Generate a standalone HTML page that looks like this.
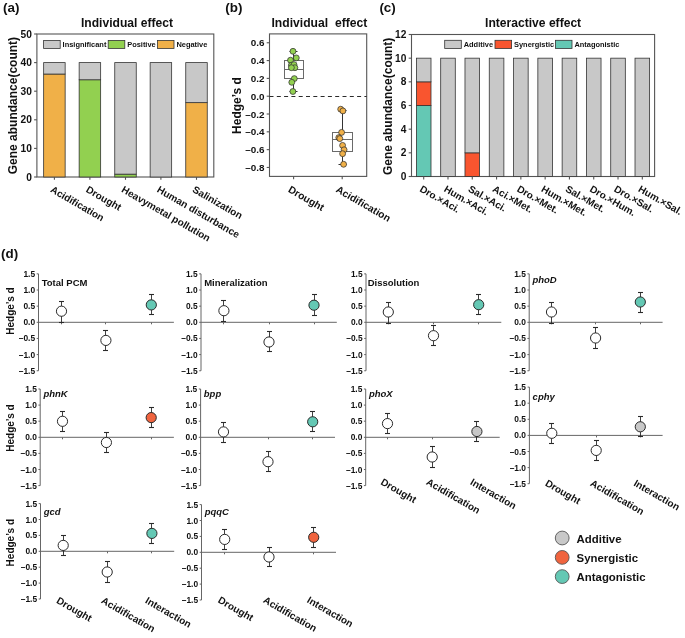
<!DOCTYPE html>
<html><head><meta charset="utf-8"><style>
html,body{margin:0;padding:0;background:#fff;}
svg{display:block;font-family:"Liberation Sans", sans-serif;will-change:transform;}
</style></head><body>
<svg width="685" height="638" viewBox="0 0 685 638">
<rect width="685" height="638" fill="#fff"/>
<text x="3.00" y="11.90" font-size="13.4" font-weight="bold" text-anchor="start" fill="#111">(a)</text>
<text x="225.30" y="11.90" font-size="13.4" font-weight="bold" text-anchor="start" fill="#111">(b)</text>
<text x="379.40" y="11.90" font-size="13.4" font-weight="bold" text-anchor="start" fill="#111">(c)</text>
<text x="1.00" y="257.90" font-size="13.4" font-weight="bold" text-anchor="start" fill="#111">(d)</text>
<rect x="36.9" y="34.0" width="176.90" height="143.00" fill="none" stroke="#555" stroke-width="1.1"/>
<line x1="34.10" y1="177.00" x2="36.90" y2="177.00" stroke="#555" stroke-width="1.1"/>
<text x="31.90" y="180.60" font-size="10.2" font-weight="bold" text-anchor="end" fill="#111">0</text>
<line x1="34.10" y1="148.40" x2="36.90" y2="148.40" stroke="#555" stroke-width="1.1"/>
<text x="31.90" y="152.00" font-size="10.2" font-weight="bold" text-anchor="end" fill="#111">10</text>
<line x1="34.10" y1="119.80" x2="36.90" y2="119.80" stroke="#555" stroke-width="1.1"/>
<text x="31.90" y="123.40" font-size="10.2" font-weight="bold" text-anchor="end" fill="#111">20</text>
<line x1="34.10" y1="91.20" x2="36.90" y2="91.20" stroke="#555" stroke-width="1.1"/>
<text x="31.90" y="94.80" font-size="10.2" font-weight="bold" text-anchor="end" fill="#111">30</text>
<line x1="34.10" y1="62.60" x2="36.90" y2="62.60" stroke="#555" stroke-width="1.1"/>
<text x="31.90" y="66.20" font-size="10.2" font-weight="bold" text-anchor="end" fill="#111">40</text>
<line x1="34.10" y1="34.00" x2="36.90" y2="34.00" stroke="#555" stroke-width="1.1"/>
<text x="31.90" y="37.60" font-size="10.2" font-weight="bold" text-anchor="end" fill="#111">50</text>
<text x="17.30" y="105.60" font-size="12" font-weight="bold" text-anchor="middle" transform="rotate(-90 17.30 105.60)" fill="#111">Gene abundance(count)</text>
<text x="127.00" y="27.40" font-size="12.1" font-weight="bold" text-anchor="middle" fill="#111">Individual effect</text>
<rect x="43.65" y="74.04" width="21.50" height="102.96" fill="#f0b048" stroke="#333" stroke-width="0.8"/>
<rect x="43.65" y="62.60" width="21.50" height="11.44" fill="#c8c8c8" stroke="#333" stroke-width="0.8"/>
<line x1="54.40" y1="177.00" x2="54.40" y2="179.80" stroke="#555" stroke-width="1.1"/>
<rect x="79.15" y="79.76" width="21.50" height="97.24" fill="#92d050" stroke="#333" stroke-width="0.8"/>
<rect x="79.15" y="62.60" width="21.50" height="17.16" fill="#c8c8c8" stroke="#333" stroke-width="0.8"/>
<line x1="89.90" y1="177.00" x2="89.90" y2="179.80" stroke="#555" stroke-width="1.1"/>
<rect x="114.75" y="174.14" width="21.50" height="2.86" fill="#92d050" stroke="#333" stroke-width="0.8"/>
<rect x="114.75" y="62.60" width="21.50" height="111.54" fill="#c8c8c8" stroke="#333" stroke-width="0.8"/>
<line x1="125.50" y1="177.00" x2="125.50" y2="179.80" stroke="#555" stroke-width="1.1"/>
<rect x="150.15" y="62.60" width="21.50" height="114.40" fill="#c8c8c8" stroke="#333" stroke-width="0.8"/>
<line x1="160.90" y1="177.00" x2="160.90" y2="179.80" stroke="#555" stroke-width="1.1"/>
<rect x="185.75" y="102.64" width="21.50" height="74.36" fill="#f0b048" stroke="#333" stroke-width="0.8"/>
<rect x="185.75" y="62.60" width="21.50" height="40.04" fill="#c8c8c8" stroke="#333" stroke-width="0.8"/>
<line x1="196.50" y1="177.00" x2="196.50" y2="179.80" stroke="#555" stroke-width="1.1"/>
<rect x="43.60" y="40.40" width="16.60" height="8.00" fill="#c8c8c8" stroke="#333" stroke-width="0.8"/>
<text x="62.60" y="47.40" font-size="7.45" font-weight="bold" text-anchor="start" fill="#111">Insignificant</text>
<rect x="108.20" y="40.40" width="16.60" height="8.00" fill="#92d050" stroke="#333" stroke-width="0.8"/>
<text x="127.20" y="47.40" font-size="7.45" font-weight="bold" text-anchor="start" fill="#111">Positive</text>
<rect x="157.40" y="40.40" width="16.60" height="8.00" fill="#f0b048" stroke="#333" stroke-width="0.8"/>
<text x="176.40" y="47.40" font-size="7.45" font-weight="bold" text-anchor="start" fill="#111">Negative</text>
<text x="49.70" y="191.60" font-size="10" font-weight="bold" text-anchor="start" transform="rotate(30 49.70 191.60)" fill="#111">Acidification</text>
<text x="85.20" y="191.60" font-size="10" font-weight="bold" text-anchor="start" transform="rotate(30 85.20 191.60)" fill="#111">Drought</text>
<text x="120.80" y="191.60" font-size="10" font-weight="bold" text-anchor="start" transform="rotate(30 120.80 191.60)" fill="#111">Heavymetal pollution</text>
<text x="156.20" y="191.60" font-size="10" font-weight="bold" text-anchor="start" transform="rotate(30 156.20 191.60)" fill="#111">Human disturbance</text>
<text x="191.80" y="191.60" font-size="10" font-weight="bold" text-anchor="start" transform="rotate(30 191.80 191.60)" fill="#111">Salinization</text>
<rect x="269.5" y="33.9" width="97.20" height="142.50" fill="none" stroke="#555" stroke-width="1.1"/>
<line x1="266.70" y1="42.76" x2="269.50" y2="42.76" stroke="#555" stroke-width="1.1"/>
<text x="264.50" y="46.26" font-size="9.9" font-weight="bold" text-anchor="end" fill="#111">0.6</text>
<line x1="266.70" y1="60.58" x2="269.50" y2="60.58" stroke="#555" stroke-width="1.1"/>
<text x="264.50" y="64.08" font-size="9.9" font-weight="bold" text-anchor="end" fill="#111">0.4</text>
<line x1="266.70" y1="78.39" x2="269.50" y2="78.39" stroke="#555" stroke-width="1.1"/>
<text x="264.50" y="81.89" font-size="9.9" font-weight="bold" text-anchor="end" fill="#111">0.2</text>
<line x1="266.70" y1="96.20" x2="269.50" y2="96.20" stroke="#555" stroke-width="1.1"/>
<text x="264.50" y="99.70" font-size="9.9" font-weight="bold" text-anchor="end" fill="#111">0.0</text>
<line x1="266.70" y1="114.01" x2="269.50" y2="114.01" stroke="#555" stroke-width="1.1"/>
<text x="264.50" y="117.51" font-size="9.9" font-weight="bold" text-anchor="end" fill="#111">–0.2</text>
<line x1="266.70" y1="131.82" x2="269.50" y2="131.82" stroke="#555" stroke-width="1.1"/>
<text x="264.50" y="135.32" font-size="9.9" font-weight="bold" text-anchor="end" fill="#111">–0.4</text>
<line x1="266.70" y1="149.64" x2="269.50" y2="149.64" stroke="#555" stroke-width="1.1"/>
<text x="264.50" y="153.14" font-size="9.9" font-weight="bold" text-anchor="end" fill="#111">–0.6</text>
<line x1="266.70" y1="167.45" x2="269.50" y2="167.45" stroke="#555" stroke-width="1.1"/>
<text x="264.50" y="170.95" font-size="9.9" font-weight="bold" text-anchor="end" fill="#111">–0.8</text>
<line x1="269.50" y1="96.50" x2="366.70" y2="96.50" stroke="#2a2a2a" stroke-width="1.0" stroke-dasharray="4,3.3"/>
<text x="319.40" y="27.30" font-size="12.15" font-weight="bold" text-anchor="middle" fill="#111">Individual&#160; effect</text>
<text x="240.80" y="105.50" font-size="12" font-weight="bold" text-anchor="middle" transform="rotate(-90 240.80 105.50)" fill="#111">Hedge’s d</text>
<line x1="293.60" y1="176.40" x2="293.60" y2="179.20" stroke="#555" stroke-width="1.1"/>
<text x="287.40" y="191.50" font-size="10.2" font-weight="bold" text-anchor="start" transform="rotate(30 287.40 191.50)" fill="#111">Drought</text>
<line x1="342.20" y1="176.40" x2="342.20" y2="179.20" stroke="#555" stroke-width="1.1"/>
<text x="335.20" y="191.50" font-size="10.2" font-weight="bold" text-anchor="start" transform="rotate(30 335.20 191.50)" fill="#111">Acidification</text>
<line x1="293.50" y1="51.30" x2="293.50" y2="60.20" stroke="#333" stroke-width="1"/>
<line x1="293.50" y1="78.80" x2="293.50" y2="91.50" stroke="#333" stroke-width="1"/>
<rect x="284.50" y="60.50" width="19.00" height="18.00" fill="none" stroke="#6a6a6a" stroke-width="1"/>
<line x1="284.50" y1="69.50" x2="303.50" y2="69.50" stroke="#6a6a6a" stroke-width="1"/>
<line x1="289.50" y1="51.50" x2="297.50" y2="51.50" stroke="#333" stroke-width="1"/>
<line x1="289.50" y1="91.50" x2="297.50" y2="91.50" stroke="#333" stroke-width="1"/>
<circle cx="293.00" cy="51.30" r="2.95" fill="#92d050" stroke="#333" stroke-width="0.75"/>
<circle cx="296.30" cy="57.90" r="2.95" fill="#92d050" stroke="#333" stroke-width="0.75"/>
<circle cx="290.50" cy="60.20" r="2.95" fill="#92d050" stroke="#333" stroke-width="0.75"/>
<circle cx="291.40" cy="65.20" r="2.95" fill="#92d050" stroke="#333" stroke-width="0.75"/>
<circle cx="294.00" cy="64.60" r="2.95" fill="#92d050" stroke="#333" stroke-width="0.75"/>
<circle cx="294.90" cy="67.70" r="2.95" fill="#92d050" stroke="#333" stroke-width="0.75"/>
<circle cx="291.40" cy="67.70" r="2.95" fill="#92d050" stroke="#333" stroke-width="0.75"/>
<circle cx="294.30" cy="78.60" r="2.95" fill="#92d050" stroke="#333" stroke-width="0.75"/>
<circle cx="291.80" cy="82.30" r="2.95" fill="#92d050" stroke="#333" stroke-width="0.75"/>
<circle cx="292.90" cy="91.50" r="2.95" fill="#92d050" stroke="#333" stroke-width="0.75"/>
<line x1="342.50" y1="109.80" x2="342.50" y2="132.40" stroke="#333" stroke-width="1"/>
<line x1="342.50" y1="151.40" x2="342.50" y2="164.30" stroke="#333" stroke-width="1"/>
<rect x="332.50" y="132.50" width="20.00" height="19.00" fill="none" stroke="#6a6a6a" stroke-width="1"/>
<line x1="332.50" y1="139.50" x2="352.50" y2="139.50" stroke="#6a6a6a" stroke-width="1"/>
<line x1="338.50" y1="110.50" x2="346.50" y2="110.50" stroke="#333" stroke-width="1"/>
<line x1="338.50" y1="164.50" x2="346.50" y2="164.50" stroke="#333" stroke-width="1"/>
<circle cx="340.70" cy="109.20" r="2.95" fill="#f0b048" stroke="#333" stroke-width="0.75"/>
<circle cx="342.90" cy="110.90" r="2.95" fill="#f0b048" stroke="#333" stroke-width="0.75"/>
<circle cx="341.60" cy="132.40" r="2.95" fill="#f0b048" stroke="#333" stroke-width="0.75"/>
<circle cx="338.80" cy="137.60" r="2.95" fill="#f0b048" stroke="#333" stroke-width="0.75"/>
<circle cx="339.80" cy="138.60" r="2.95" fill="#f0b048" stroke="#333" stroke-width="0.75"/>
<circle cx="342.60" cy="145.40" r="2.95" fill="#f0b048" stroke="#333" stroke-width="0.75"/>
<circle cx="344.10" cy="149.80" r="2.95" fill="#f0b048" stroke="#333" stroke-width="0.75"/>
<circle cx="342.60" cy="153.70" r="2.95" fill="#f0b048" stroke="#333" stroke-width="0.75"/>
<circle cx="343.60" cy="164.30" r="2.95" fill="#f0b048" stroke="#333" stroke-width="0.75"/>
<rect x="411.5" y="34.5" width="243.10" height="142.00" fill="none" stroke="#555" stroke-width="1.1"/>
<line x1="408.70" y1="176.50" x2="411.50" y2="176.50" stroke="#555" stroke-width="1.1"/>
<text x="406.40" y="180.10" font-size="10.2" font-weight="bold" text-anchor="end" fill="#111">0</text>
<line x1="408.70" y1="152.83" x2="411.50" y2="152.83" stroke="#555" stroke-width="1.1"/>
<text x="406.40" y="156.43" font-size="10.2" font-weight="bold" text-anchor="end" fill="#111">2</text>
<line x1="408.70" y1="129.17" x2="411.50" y2="129.17" stroke="#555" stroke-width="1.1"/>
<text x="406.40" y="132.77" font-size="10.2" font-weight="bold" text-anchor="end" fill="#111">4</text>
<line x1="408.70" y1="105.50" x2="411.50" y2="105.50" stroke="#555" stroke-width="1.1"/>
<text x="406.40" y="109.10" font-size="10.2" font-weight="bold" text-anchor="end" fill="#111">6</text>
<line x1="408.70" y1="81.83" x2="411.50" y2="81.83" stroke="#555" stroke-width="1.1"/>
<text x="406.40" y="85.43" font-size="10.2" font-weight="bold" text-anchor="end" fill="#111">8</text>
<line x1="408.70" y1="58.17" x2="411.50" y2="58.17" stroke="#555" stroke-width="1.1"/>
<text x="406.40" y="61.77" font-size="10.2" font-weight="bold" text-anchor="end" fill="#111">10</text>
<line x1="408.70" y1="34.50" x2="411.50" y2="34.50" stroke="#555" stroke-width="1.1"/>
<text x="406.40" y="38.10" font-size="10.2" font-weight="bold" text-anchor="end" fill="#111">12</text>
<text x="391.70" y="106.30" font-size="12" font-weight="bold" text-anchor="middle" transform="rotate(-90 391.70 106.30)" fill="#111">Gene abundance(count)</text>
<text x="533.10" y="27.40" font-size="12.1" font-weight="bold" text-anchor="middle" fill="#111">Interactive effect</text>
<rect x="416.40" y="105.50" width="14.60" height="71.00" fill="#64c8b4" stroke="#333" stroke-width="0.8"/>
<rect x="416.40" y="81.83" width="14.60" height="23.67" fill="#f9552f" stroke="#333" stroke-width="0.8"/>
<rect x="416.40" y="58.17" width="14.60" height="23.67" fill="#c8c8c8" stroke="#333" stroke-width="0.8"/>
<line x1="423.70" y1="176.50" x2="423.70" y2="179.50" stroke="#555" stroke-width="1.1"/>
<text x="419.00" y="191.00" font-size="10" font-weight="bold" text-anchor="start" transform="rotate(30 419.00 191.00)" fill="#111">Dro.×Aci.</text>
<rect x="440.69" y="58.17" width="14.60" height="118.33" fill="#c8c8c8" stroke="#333" stroke-width="0.8"/>
<line x1="447.99" y1="176.50" x2="447.99" y2="179.50" stroke="#555" stroke-width="1.1"/>
<text x="443.29" y="191.00" font-size="10" font-weight="bold" text-anchor="start" transform="rotate(30 443.29 191.00)" fill="#111">Hum.×Aci.</text>
<rect x="464.98" y="152.83" width="14.60" height="23.67" fill="#f9552f" stroke="#333" stroke-width="0.8"/>
<rect x="464.98" y="58.17" width="14.60" height="94.67" fill="#c8c8c8" stroke="#333" stroke-width="0.8"/>
<line x1="472.28" y1="176.50" x2="472.28" y2="179.50" stroke="#555" stroke-width="1.1"/>
<text x="467.58" y="191.00" font-size="10" font-weight="bold" text-anchor="start" transform="rotate(30 467.58 191.00)" fill="#111">Sal.×Aci.</text>
<rect x="489.27" y="58.17" width="14.60" height="118.33" fill="#c8c8c8" stroke="#333" stroke-width="0.8"/>
<line x1="496.57" y1="176.50" x2="496.57" y2="179.50" stroke="#555" stroke-width="1.1"/>
<text x="491.87" y="191.00" font-size="10" font-weight="bold" text-anchor="start" transform="rotate(30 491.87 191.00)" fill="#111">Aci.×Met.</text>
<rect x="513.56" y="58.17" width="14.60" height="118.33" fill="#c8c8c8" stroke="#333" stroke-width="0.8"/>
<line x1="520.86" y1="176.50" x2="520.86" y2="179.50" stroke="#555" stroke-width="1.1"/>
<text x="516.16" y="191.00" font-size="10" font-weight="bold" text-anchor="start" transform="rotate(30 516.16 191.00)" fill="#111">Dro.×Met.</text>
<rect x="537.85" y="58.17" width="14.60" height="118.33" fill="#c8c8c8" stroke="#333" stroke-width="0.8"/>
<line x1="545.15" y1="176.50" x2="545.15" y2="179.50" stroke="#555" stroke-width="1.1"/>
<text x="540.45" y="191.00" font-size="10" font-weight="bold" text-anchor="start" transform="rotate(30 540.45 191.00)" fill="#111">Hum.×Met.</text>
<rect x="562.14" y="58.17" width="14.60" height="118.33" fill="#c8c8c8" stroke="#333" stroke-width="0.8"/>
<line x1="569.44" y1="176.50" x2="569.44" y2="179.50" stroke="#555" stroke-width="1.1"/>
<text x="564.74" y="191.00" font-size="10" font-weight="bold" text-anchor="start" transform="rotate(30 564.74 191.00)" fill="#111">Sal.×Met.</text>
<rect x="586.43" y="58.17" width="14.60" height="118.33" fill="#c8c8c8" stroke="#333" stroke-width="0.8"/>
<line x1="593.73" y1="176.50" x2="593.73" y2="179.50" stroke="#555" stroke-width="1.1"/>
<text x="589.03" y="191.00" font-size="10" font-weight="bold" text-anchor="start" transform="rotate(30 589.03 191.00)" fill="#111">Dro.×Hum.</text>
<rect x="610.72" y="58.17" width="14.60" height="118.33" fill="#c8c8c8" stroke="#333" stroke-width="0.8"/>
<line x1="618.02" y1="176.50" x2="618.02" y2="179.50" stroke="#555" stroke-width="1.1"/>
<text x="613.32" y="191.00" font-size="10" font-weight="bold" text-anchor="start" transform="rotate(30 613.32 191.00)" fill="#111">Dro.×Sal.</text>
<rect x="635.01" y="58.17" width="14.60" height="118.33" fill="#c8c8c8" stroke="#333" stroke-width="0.8"/>
<line x1="642.31" y1="176.50" x2="642.31" y2="179.50" stroke="#555" stroke-width="1.1"/>
<text x="637.61" y="191.00" font-size="10" font-weight="bold" text-anchor="start" transform="rotate(30 637.61 191.00)" fill="#111">Hum.×Sal.</text>
<rect x="444.70" y="40.30" width="16.60" height="8.20" fill="#c8c8c8" stroke="#333" stroke-width="0.8"/>
<text x="463.70" y="47.40" font-size="7.45" font-weight="bold" text-anchor="start" fill="#111">Additive</text>
<rect x="495.00" y="40.30" width="16.60" height="8.20" fill="#f9552f" stroke="#333" stroke-width="0.8"/>
<text x="514.00" y="47.40" font-size="7.45" font-weight="bold" text-anchor="start" fill="#111">Synergistic</text>
<rect x="555.40" y="40.30" width="16.60" height="8.20" fill="#64c8b4" stroke="#333" stroke-width="0.8"/>
<text x="574.40" y="47.40" font-size="7.45" font-weight="bold" text-anchor="start" fill="#111">Antagonistic</text>
<line x1="38.50" y1="273.85" x2="38.50" y2="370.75" stroke="#666" stroke-width="1.0"/>
<line x1="36.70" y1="370.75" x2="38.50" y2="370.75" stroke="#666" stroke-width="1.0"/>
<text x="35.10" y="373.75" font-size="8.4" font-weight="bold" text-anchor="end" fill="#111">–1.5</text>
<line x1="36.70" y1="354.60" x2="38.50" y2="354.60" stroke="#666" stroke-width="1.0"/>
<text x="35.10" y="357.60" font-size="8.4" font-weight="bold" text-anchor="end" fill="#111">–1.0</text>
<line x1="36.70" y1="338.45" x2="38.50" y2="338.45" stroke="#666" stroke-width="1.0"/>
<text x="35.10" y="341.45" font-size="8.4" font-weight="bold" text-anchor="end" fill="#111">–0.5</text>
<line x1="36.70" y1="322.30" x2="38.50" y2="322.30" stroke="#666" stroke-width="1.0"/>
<text x="35.10" y="325.30" font-size="8.4" font-weight="bold" text-anchor="end" fill="#111">0.0</text>
<line x1="36.70" y1="306.15" x2="38.50" y2="306.15" stroke="#666" stroke-width="1.0"/>
<text x="35.10" y="309.15" font-size="8.4" font-weight="bold" text-anchor="end" fill="#111">0.5</text>
<line x1="36.70" y1="290.00" x2="38.50" y2="290.00" stroke="#666" stroke-width="1.0"/>
<text x="35.10" y="293.00" font-size="8.4" font-weight="bold" text-anchor="end" fill="#111">1.0</text>
<line x1="36.70" y1="273.85" x2="38.50" y2="273.85" stroke="#666" stroke-width="1.0"/>
<text x="35.10" y="276.85" font-size="8.4" font-weight="bold" text-anchor="end" fill="#111">1.5</text>
<line x1="38.50" y1="322.30" x2="173.90" y2="322.30" stroke="#666" stroke-width="1.0"/>
<text x="41.70" y="285.80" font-size="9.5" font-weight="bold" text-anchor="start" fill="#111">Total PCM</text>
<line x1="61.50" y1="322.30" x2="61.50" y2="324.30" stroke="#666" stroke-width="1.0"/>
<line x1="61.50" y1="301.00" x2="61.50" y2="322.10" stroke="#2a2a2a" stroke-width="0.9"/>
<line x1="59.00" y1="301.50" x2="64.00" y2="301.50" stroke="#2a2a2a" stroke-width="1.1"/>
<line x1="59.00" y1="322.50" x2="64.00" y2="322.50" stroke="#2a2a2a" stroke-width="1.1"/>
<circle cx="61.50" cy="311.20" r="5.10" fill="#fff" stroke="#2a2a2a" stroke-width="1.0"/>
<line x1="105.50" y1="322.30" x2="105.50" y2="324.30" stroke="#666" stroke-width="1.0"/>
<line x1="105.50" y1="330.10" x2="105.50" y2="350.30" stroke="#2a2a2a" stroke-width="0.9"/>
<line x1="103.00" y1="330.50" x2="108.00" y2="330.50" stroke="#2a2a2a" stroke-width="1.1"/>
<line x1="103.00" y1="350.50" x2="108.00" y2="350.50" stroke="#2a2a2a" stroke-width="1.1"/>
<circle cx="105.90" cy="340.40" r="5.10" fill="#fff" stroke="#2a2a2a" stroke-width="1.0"/>
<line x1="151.50" y1="322.30" x2="151.50" y2="324.30" stroke="#666" stroke-width="1.0"/>
<line x1="151.50" y1="294.40" x2="151.50" y2="314.90" stroke="#2a2a2a" stroke-width="0.9"/>
<line x1="149.00" y1="294.50" x2="154.00" y2="294.50" stroke="#2a2a2a" stroke-width="1.1"/>
<line x1="149.00" y1="314.50" x2="154.00" y2="314.50" stroke="#2a2a2a" stroke-width="1.1"/>
<circle cx="151.30" cy="304.90" r="5.10" fill="#64c8b4" stroke="#2a2a2a" stroke-width="1.0"/>
<text x="14.00" y="311.00" font-size="10" font-weight="bold" text-anchor="middle" transform="rotate(-90 14.00 311.00)" fill="#111">Hedge’s d</text>
<line x1="201.00" y1="273.85" x2="201.00" y2="370.75" stroke="#666" stroke-width="1.0"/>
<line x1="199.20" y1="370.75" x2="201.00" y2="370.75" stroke="#666" stroke-width="1.0"/>
<text x="197.60" y="373.75" font-size="8.4" font-weight="bold" text-anchor="end" fill="#111">–1.5</text>
<line x1="199.20" y1="354.60" x2="201.00" y2="354.60" stroke="#666" stroke-width="1.0"/>
<text x="197.60" y="357.60" font-size="8.4" font-weight="bold" text-anchor="end" fill="#111">–1.0</text>
<line x1="199.20" y1="338.45" x2="201.00" y2="338.45" stroke="#666" stroke-width="1.0"/>
<text x="197.60" y="341.45" font-size="8.4" font-weight="bold" text-anchor="end" fill="#111">–0.5</text>
<line x1="199.20" y1="322.30" x2="201.00" y2="322.30" stroke="#666" stroke-width="1.0"/>
<text x="197.60" y="325.30" font-size="8.4" font-weight="bold" text-anchor="end" fill="#111">0.0</text>
<line x1="199.20" y1="306.15" x2="201.00" y2="306.15" stroke="#666" stroke-width="1.0"/>
<text x="197.60" y="309.15" font-size="8.4" font-weight="bold" text-anchor="end" fill="#111">0.5</text>
<line x1="199.20" y1="290.00" x2="201.00" y2="290.00" stroke="#666" stroke-width="1.0"/>
<text x="197.60" y="293.00" font-size="8.4" font-weight="bold" text-anchor="end" fill="#111">1.0</text>
<line x1="199.20" y1="273.85" x2="201.00" y2="273.85" stroke="#666" stroke-width="1.0"/>
<text x="197.60" y="276.85" font-size="8.4" font-weight="bold" text-anchor="end" fill="#111">1.5</text>
<line x1="201.00" y1="322.30" x2="336.80" y2="322.30" stroke="#666" stroke-width="1.0"/>
<text x="204.20" y="285.80" font-size="9.5" font-weight="bold" text-anchor="start" fill="#111">Mineralization</text>
<line x1="223.50" y1="322.30" x2="223.50" y2="324.30" stroke="#666" stroke-width="1.0"/>
<line x1="223.50" y1="300.70" x2="223.50" y2="321.70" stroke="#2a2a2a" stroke-width="0.9"/>
<line x1="221.00" y1="300.50" x2="226.00" y2="300.50" stroke="#2a2a2a" stroke-width="1.1"/>
<line x1="221.00" y1="321.50" x2="226.00" y2="321.50" stroke="#2a2a2a" stroke-width="1.1"/>
<circle cx="223.90" cy="310.70" r="5.10" fill="#fff" stroke="#2a2a2a" stroke-width="1.0"/>
<line x1="269.50" y1="322.30" x2="269.50" y2="324.30" stroke="#666" stroke-width="1.0"/>
<line x1="269.50" y1="331.50" x2="269.50" y2="351.40" stroke="#2a2a2a" stroke-width="0.9"/>
<line x1="267.00" y1="331.50" x2="272.00" y2="331.50" stroke="#2a2a2a" stroke-width="1.1"/>
<line x1="267.00" y1="351.50" x2="272.00" y2="351.50" stroke="#2a2a2a" stroke-width="1.1"/>
<circle cx="269.00" cy="342.00" r="5.10" fill="#fff" stroke="#2a2a2a" stroke-width="1.0"/>
<line x1="314.50" y1="322.30" x2="314.50" y2="324.30" stroke="#666" stroke-width="1.0"/>
<line x1="314.50" y1="294.70" x2="314.50" y2="315.20" stroke="#2a2a2a" stroke-width="0.9"/>
<line x1="312.00" y1="294.50" x2="317.00" y2="294.50" stroke="#2a2a2a" stroke-width="1.1"/>
<line x1="312.00" y1="315.50" x2="317.00" y2="315.50" stroke="#2a2a2a" stroke-width="1.1"/>
<circle cx="314.00" cy="305.20" r="5.10" fill="#64c8b4" stroke="#2a2a2a" stroke-width="1.0"/>
<line x1="366.00" y1="273.85" x2="366.00" y2="370.75" stroke="#666" stroke-width="1.0"/>
<line x1="364.20" y1="370.75" x2="366.00" y2="370.75" stroke="#666" stroke-width="1.0"/>
<text x="362.60" y="373.75" font-size="8.4" font-weight="bold" text-anchor="end" fill="#111">–1.5</text>
<line x1="364.20" y1="354.60" x2="366.00" y2="354.60" stroke="#666" stroke-width="1.0"/>
<text x="362.60" y="357.60" font-size="8.4" font-weight="bold" text-anchor="end" fill="#111">–1.0</text>
<line x1="364.20" y1="338.45" x2="366.00" y2="338.45" stroke="#666" stroke-width="1.0"/>
<text x="362.60" y="341.45" font-size="8.4" font-weight="bold" text-anchor="end" fill="#111">–0.5</text>
<line x1="364.20" y1="322.30" x2="366.00" y2="322.30" stroke="#666" stroke-width="1.0"/>
<text x="362.60" y="325.30" font-size="8.4" font-weight="bold" text-anchor="end" fill="#111">0.0</text>
<line x1="364.20" y1="306.15" x2="366.00" y2="306.15" stroke="#666" stroke-width="1.0"/>
<text x="362.60" y="309.15" font-size="8.4" font-weight="bold" text-anchor="end" fill="#111">0.5</text>
<line x1="364.20" y1="290.00" x2="366.00" y2="290.00" stroke="#666" stroke-width="1.0"/>
<text x="362.60" y="293.00" font-size="8.4" font-weight="bold" text-anchor="end" fill="#111">1.0</text>
<line x1="364.20" y1="273.85" x2="366.00" y2="273.85" stroke="#666" stroke-width="1.0"/>
<text x="362.60" y="276.85" font-size="8.4" font-weight="bold" text-anchor="end" fill="#111">1.5</text>
<line x1="366.00" y1="322.30" x2="501.30" y2="322.30" stroke="#666" stroke-width="1.0"/>
<text x="367.70" y="285.60" font-size="9.5" font-weight="bold" text-anchor="start" fill="#111">Dissolution</text>
<line x1="388.50" y1="322.30" x2="388.50" y2="324.30" stroke="#666" stroke-width="1.0"/>
<line x1="388.50" y1="302.00" x2="388.50" y2="323.10" stroke="#2a2a2a" stroke-width="0.9"/>
<line x1="386.00" y1="302.50" x2="391.00" y2="302.50" stroke="#2a2a2a" stroke-width="1.1"/>
<line x1="386.00" y1="323.50" x2="391.00" y2="323.50" stroke="#2a2a2a" stroke-width="1.1"/>
<circle cx="388.30" cy="312.00" r="5.10" fill="#fff" stroke="#2a2a2a" stroke-width="1.0"/>
<line x1="433.50" y1="322.30" x2="433.50" y2="324.30" stroke="#666" stroke-width="1.0"/>
<line x1="433.50" y1="325.70" x2="433.50" y2="345.90" stroke="#2a2a2a" stroke-width="0.9"/>
<line x1="431.00" y1="325.50" x2="436.00" y2="325.50" stroke="#2a2a2a" stroke-width="1.1"/>
<line x1="431.00" y1="345.50" x2="436.00" y2="345.50" stroke="#2a2a2a" stroke-width="1.1"/>
<circle cx="433.50" cy="335.70" r="5.10" fill="#fff" stroke="#2a2a2a" stroke-width="1.0"/>
<line x1="478.50" y1="322.30" x2="478.50" y2="324.30" stroke="#666" stroke-width="1.0"/>
<line x1="478.50" y1="294.20" x2="478.50" y2="314.70" stroke="#2a2a2a" stroke-width="0.9"/>
<line x1="476.00" y1="294.50" x2="481.00" y2="294.50" stroke="#2a2a2a" stroke-width="1.1"/>
<line x1="476.00" y1="314.50" x2="481.00" y2="314.50" stroke="#2a2a2a" stroke-width="1.1"/>
<circle cx="478.70" cy="304.70" r="5.10" fill="#64c8b4" stroke="#2a2a2a" stroke-width="1.0"/>
<line x1="529.20" y1="273.85" x2="529.20" y2="370.75" stroke="#666" stroke-width="1.0"/>
<line x1="527.40" y1="370.75" x2="529.20" y2="370.75" stroke="#666" stroke-width="1.0"/>
<text x="525.80" y="373.75" font-size="8.4" font-weight="bold" text-anchor="end" fill="#111">–1.5</text>
<line x1="527.40" y1="354.60" x2="529.20" y2="354.60" stroke="#666" stroke-width="1.0"/>
<text x="525.80" y="357.60" font-size="8.4" font-weight="bold" text-anchor="end" fill="#111">–1.0</text>
<line x1="527.40" y1="338.45" x2="529.20" y2="338.45" stroke="#666" stroke-width="1.0"/>
<text x="525.80" y="341.45" font-size="8.4" font-weight="bold" text-anchor="end" fill="#111">–0.5</text>
<line x1="527.40" y1="322.30" x2="529.20" y2="322.30" stroke="#666" stroke-width="1.0"/>
<text x="525.80" y="325.30" font-size="8.4" font-weight="bold" text-anchor="end" fill="#111">0.0</text>
<line x1="527.40" y1="306.15" x2="529.20" y2="306.15" stroke="#666" stroke-width="1.0"/>
<text x="525.80" y="309.15" font-size="8.4" font-weight="bold" text-anchor="end" fill="#111">0.5</text>
<line x1="527.40" y1="290.00" x2="529.20" y2="290.00" stroke="#666" stroke-width="1.0"/>
<text x="525.80" y="293.00" font-size="8.4" font-weight="bold" text-anchor="end" fill="#111">1.0</text>
<line x1="527.40" y1="273.85" x2="529.20" y2="273.85" stroke="#666" stroke-width="1.0"/>
<text x="525.80" y="276.85" font-size="8.4" font-weight="bold" text-anchor="end" fill="#111">1.5</text>
<line x1="529.20" y1="322.30" x2="662.60" y2="322.30" stroke="#666" stroke-width="1.0"/>
<text x="532.40" y="282.60" font-size="9.5" font-weight="bold" font-style="italic" text-anchor="start" fill="#111">phoD</text>
<line x1="551.50" y1="322.30" x2="551.50" y2="324.30" stroke="#666" stroke-width="1.0"/>
<line x1="551.50" y1="302.00" x2="551.50" y2="323.00" stroke="#2a2a2a" stroke-width="0.9"/>
<line x1="549.00" y1="302.50" x2="554.00" y2="302.50" stroke="#2a2a2a" stroke-width="1.1"/>
<line x1="549.00" y1="323.50" x2="554.00" y2="323.50" stroke="#2a2a2a" stroke-width="1.1"/>
<circle cx="551.50" cy="312.00" r="5.10" fill="#fff" stroke="#2a2a2a" stroke-width="1.0"/>
<line x1="595.50" y1="322.30" x2="595.50" y2="324.30" stroke="#666" stroke-width="1.0"/>
<line x1="595.50" y1="327.80" x2="595.50" y2="348.00" stroke="#2a2a2a" stroke-width="0.9"/>
<line x1="593.00" y1="327.50" x2="598.00" y2="327.50" stroke="#2a2a2a" stroke-width="1.1"/>
<line x1="593.00" y1="348.50" x2="598.00" y2="348.50" stroke="#2a2a2a" stroke-width="1.1"/>
<circle cx="595.60" cy="338.00" r="5.10" fill="#fff" stroke="#2a2a2a" stroke-width="1.0"/>
<line x1="640.50" y1="322.30" x2="640.50" y2="324.30" stroke="#666" stroke-width="1.0"/>
<line x1="640.50" y1="292.00" x2="640.50" y2="312.50" stroke="#2a2a2a" stroke-width="0.9"/>
<line x1="638.00" y1="292.50" x2="643.00" y2="292.50" stroke="#2a2a2a" stroke-width="1.1"/>
<line x1="638.00" y1="312.50" x2="643.00" y2="312.50" stroke="#2a2a2a" stroke-width="1.1"/>
<circle cx="640.30" cy="302.00" r="5.10" fill="#64c8b4" stroke="#2a2a2a" stroke-width="1.0"/>
<line x1="40.20" y1="389.00" x2="40.20" y2="485.60" stroke="#666" stroke-width="1.0"/>
<line x1="38.40" y1="485.60" x2="40.20" y2="485.60" stroke="#666" stroke-width="1.0"/>
<text x="36.80" y="488.60" font-size="8.4" font-weight="bold" text-anchor="end" fill="#111">–1.5</text>
<line x1="38.40" y1="469.50" x2="40.20" y2="469.50" stroke="#666" stroke-width="1.0"/>
<text x="36.80" y="472.50" font-size="8.4" font-weight="bold" text-anchor="end" fill="#111">–1.0</text>
<line x1="38.40" y1="453.40" x2="40.20" y2="453.40" stroke="#666" stroke-width="1.0"/>
<text x="36.80" y="456.40" font-size="8.4" font-weight="bold" text-anchor="end" fill="#111">–0.5</text>
<line x1="38.40" y1="437.30" x2="40.20" y2="437.30" stroke="#666" stroke-width="1.0"/>
<text x="36.80" y="440.30" font-size="8.4" font-weight="bold" text-anchor="end" fill="#111">0.0</text>
<line x1="38.40" y1="421.20" x2="40.20" y2="421.20" stroke="#666" stroke-width="1.0"/>
<text x="36.80" y="424.20" font-size="8.4" font-weight="bold" text-anchor="end" fill="#111">0.5</text>
<line x1="38.40" y1="405.10" x2="40.20" y2="405.10" stroke="#666" stroke-width="1.0"/>
<text x="36.80" y="408.10" font-size="8.4" font-weight="bold" text-anchor="end" fill="#111">1.0</text>
<line x1="38.40" y1="389.00" x2="40.20" y2="389.00" stroke="#666" stroke-width="1.0"/>
<text x="36.80" y="392.00" font-size="8.4" font-weight="bold" text-anchor="end" fill="#111">1.5</text>
<line x1="40.20" y1="437.30" x2="173.90" y2="437.30" stroke="#666" stroke-width="1.0"/>
<text x="43.40" y="397.30" font-size="9.5" font-weight="bold" font-style="italic" text-anchor="start" fill="#111">phnK</text>
<line x1="62.50" y1="437.30" x2="62.50" y2="439.30" stroke="#666" stroke-width="1.0"/>
<line x1="62.50" y1="411.20" x2="62.50" y2="431.00" stroke="#2a2a2a" stroke-width="0.9"/>
<line x1="60.00" y1="411.50" x2="65.00" y2="411.50" stroke="#2a2a2a" stroke-width="1.1"/>
<line x1="60.00" y1="431.50" x2="65.00" y2="431.50" stroke="#2a2a2a" stroke-width="1.1"/>
<circle cx="62.50" cy="421.30" r="5.10" fill="#fff" stroke="#2a2a2a" stroke-width="1.0"/>
<line x1="106.50" y1="437.30" x2="106.50" y2="439.30" stroke="#666" stroke-width="1.0"/>
<line x1="106.50" y1="432.30" x2="106.50" y2="452.50" stroke="#2a2a2a" stroke-width="0.9"/>
<line x1="104.00" y1="432.50" x2="109.00" y2="432.50" stroke="#2a2a2a" stroke-width="1.1"/>
<line x1="104.00" y1="452.50" x2="109.00" y2="452.50" stroke="#2a2a2a" stroke-width="1.1"/>
<circle cx="106.40" cy="442.50" r="5.10" fill="#fff" stroke="#2a2a2a" stroke-width="1.0"/>
<line x1="151.50" y1="437.30" x2="151.50" y2="439.30" stroke="#666" stroke-width="1.0"/>
<line x1="151.50" y1="407.30" x2="151.50" y2="427.50" stroke="#2a2a2a" stroke-width="0.9"/>
<line x1="149.00" y1="407.50" x2="154.00" y2="407.50" stroke="#2a2a2a" stroke-width="1.1"/>
<line x1="149.00" y1="427.50" x2="154.00" y2="427.50" stroke="#2a2a2a" stroke-width="1.1"/>
<circle cx="151.20" cy="417.60" r="5.10" fill="#f0643f" stroke="#2a2a2a" stroke-width="1.0"/>
<text x="14.00" y="428.00" font-size="10" font-weight="bold" text-anchor="middle" transform="rotate(-90 14.00 428.00)" fill="#111">Hedge’s d</text>
<line x1="200.60" y1="389.00" x2="200.60" y2="485.60" stroke="#666" stroke-width="1.0"/>
<line x1="198.80" y1="485.60" x2="200.60" y2="485.60" stroke="#666" stroke-width="1.0"/>
<text x="197.20" y="488.60" font-size="8.4" font-weight="bold" text-anchor="end" fill="#111">–1.5</text>
<line x1="198.80" y1="469.50" x2="200.60" y2="469.50" stroke="#666" stroke-width="1.0"/>
<text x="197.20" y="472.50" font-size="8.4" font-weight="bold" text-anchor="end" fill="#111">–1.0</text>
<line x1="198.80" y1="453.40" x2="200.60" y2="453.40" stroke="#666" stroke-width="1.0"/>
<text x="197.20" y="456.40" font-size="8.4" font-weight="bold" text-anchor="end" fill="#111">–0.5</text>
<line x1="198.80" y1="437.30" x2="200.60" y2="437.30" stroke="#666" stroke-width="1.0"/>
<text x="197.20" y="440.30" font-size="8.4" font-weight="bold" text-anchor="end" fill="#111">0.0</text>
<line x1="198.80" y1="421.20" x2="200.60" y2="421.20" stroke="#666" stroke-width="1.0"/>
<text x="197.20" y="424.20" font-size="8.4" font-weight="bold" text-anchor="end" fill="#111">0.5</text>
<line x1="198.80" y1="405.10" x2="200.60" y2="405.10" stroke="#666" stroke-width="1.0"/>
<text x="197.20" y="408.10" font-size="8.4" font-weight="bold" text-anchor="end" fill="#111">1.0</text>
<line x1="198.80" y1="389.00" x2="200.60" y2="389.00" stroke="#666" stroke-width="1.0"/>
<text x="197.20" y="392.00" font-size="8.4" font-weight="bold" text-anchor="end" fill="#111">1.5</text>
<line x1="200.60" y1="437.30" x2="335.00" y2="437.30" stroke="#666" stroke-width="1.0"/>
<text x="203.80" y="397.30" font-size="9.5" font-weight="bold" font-style="italic" text-anchor="start" fill="#111">bpp</text>
<line x1="223.50" y1="437.30" x2="223.50" y2="439.30" stroke="#666" stroke-width="1.0"/>
<line x1="223.50" y1="422.10" x2="223.50" y2="442.10" stroke="#2a2a2a" stroke-width="0.9"/>
<line x1="221.00" y1="422.50" x2="226.00" y2="422.50" stroke="#2a2a2a" stroke-width="1.1"/>
<line x1="221.00" y1="442.50" x2="226.00" y2="442.50" stroke="#2a2a2a" stroke-width="1.1"/>
<circle cx="223.50" cy="431.90" r="5.10" fill="#fff" stroke="#2a2a2a" stroke-width="1.0"/>
<line x1="268.50" y1="437.30" x2="268.50" y2="439.30" stroke="#666" stroke-width="1.0"/>
<line x1="268.50" y1="451.20" x2="268.50" y2="471.70" stroke="#2a2a2a" stroke-width="0.9"/>
<line x1="266.00" y1="451.50" x2="271.00" y2="451.50" stroke="#2a2a2a" stroke-width="1.1"/>
<line x1="266.00" y1="471.50" x2="271.00" y2="471.50" stroke="#2a2a2a" stroke-width="1.1"/>
<circle cx="268.00" cy="461.70" r="5.10" fill="#fff" stroke="#2a2a2a" stroke-width="1.0"/>
<line x1="312.50" y1="437.30" x2="312.50" y2="439.30" stroke="#666" stroke-width="1.0"/>
<line x1="312.50" y1="411.30" x2="312.50" y2="431.50" stroke="#2a2a2a" stroke-width="0.9"/>
<line x1="310.00" y1="411.50" x2="315.00" y2="411.50" stroke="#2a2a2a" stroke-width="1.1"/>
<line x1="310.00" y1="431.50" x2="315.00" y2="431.50" stroke="#2a2a2a" stroke-width="1.1"/>
<circle cx="312.70" cy="421.80" r="5.10" fill="#64c8b4" stroke="#2a2a2a" stroke-width="1.0"/>
<line x1="365.70" y1="389.00" x2="365.70" y2="485.60" stroke="#666" stroke-width="1.0"/>
<line x1="363.90" y1="485.60" x2="365.70" y2="485.60" stroke="#666" stroke-width="1.0"/>
<text x="362.30" y="488.60" font-size="8.4" font-weight="bold" text-anchor="end" fill="#111">–1.5</text>
<line x1="363.90" y1="469.50" x2="365.70" y2="469.50" stroke="#666" stroke-width="1.0"/>
<text x="362.30" y="472.50" font-size="8.4" font-weight="bold" text-anchor="end" fill="#111">–1.0</text>
<line x1="363.90" y1="453.40" x2="365.70" y2="453.40" stroke="#666" stroke-width="1.0"/>
<text x="362.30" y="456.40" font-size="8.4" font-weight="bold" text-anchor="end" fill="#111">–0.5</text>
<line x1="363.90" y1="437.30" x2="365.70" y2="437.30" stroke="#666" stroke-width="1.0"/>
<text x="362.30" y="440.30" font-size="8.4" font-weight="bold" text-anchor="end" fill="#111">0.0</text>
<line x1="363.90" y1="421.20" x2="365.70" y2="421.20" stroke="#666" stroke-width="1.0"/>
<text x="362.30" y="424.20" font-size="8.4" font-weight="bold" text-anchor="end" fill="#111">0.5</text>
<line x1="363.90" y1="405.10" x2="365.70" y2="405.10" stroke="#666" stroke-width="1.0"/>
<text x="362.30" y="408.10" font-size="8.4" font-weight="bold" text-anchor="end" fill="#111">1.0</text>
<line x1="363.90" y1="389.00" x2="365.70" y2="389.00" stroke="#666" stroke-width="1.0"/>
<text x="362.30" y="392.00" font-size="8.4" font-weight="bold" text-anchor="end" fill="#111">1.5</text>
<line x1="365.70" y1="437.30" x2="499.70" y2="437.30" stroke="#666" stroke-width="1.0"/>
<text x="368.90" y="397.30" font-size="9.5" font-weight="bold" font-style="italic" text-anchor="start" fill="#111">phoX</text>
<line x1="387.50" y1="437.30" x2="387.50" y2="439.30" stroke="#666" stroke-width="1.0"/>
<line x1="387.50" y1="413.60" x2="387.50" y2="433.30" stroke="#2a2a2a" stroke-width="0.9"/>
<line x1="385.00" y1="413.50" x2="390.00" y2="413.50" stroke="#2a2a2a" stroke-width="1.1"/>
<line x1="385.00" y1="433.50" x2="390.00" y2="433.50" stroke="#2a2a2a" stroke-width="1.1"/>
<circle cx="387.50" cy="423.60" r="5.10" fill="#fff" stroke="#2a2a2a" stroke-width="1.0"/>
<line x1="432.50" y1="437.30" x2="432.50" y2="439.30" stroke="#666" stroke-width="1.0"/>
<line x1="432.50" y1="446.70" x2="432.50" y2="467.00" stroke="#2a2a2a" stroke-width="0.9"/>
<line x1="430.00" y1="446.50" x2="435.00" y2="446.50" stroke="#2a2a2a" stroke-width="1.1"/>
<line x1="430.00" y1="467.50" x2="435.00" y2="467.50" stroke="#2a2a2a" stroke-width="1.1"/>
<circle cx="432.20" cy="457.00" r="5.10" fill="#fff" stroke="#2a2a2a" stroke-width="1.0"/>
<line x1="476.50" y1="437.30" x2="476.50" y2="439.30" stroke="#666" stroke-width="1.0"/>
<line x1="476.50" y1="421.50" x2="476.50" y2="441.50" stroke="#2a2a2a" stroke-width="0.9"/>
<line x1="474.00" y1="421.50" x2="479.00" y2="421.50" stroke="#2a2a2a" stroke-width="1.1"/>
<line x1="474.00" y1="441.50" x2="479.00" y2="441.50" stroke="#2a2a2a" stroke-width="1.1"/>
<circle cx="476.90" cy="431.50" r="5.10" fill="#c8c8c8" stroke="#2a2a2a" stroke-width="1.0"/>
<text x="380.10" y="484.00" font-size="10" font-weight="bold" text-anchor="start" transform="rotate(30 380.10 484.00)" fill="#111">Drought</text>
<text x="425.60" y="484.00" font-size="10" font-weight="bold" text-anchor="start" transform="rotate(30 425.60 484.00)" fill="#111">Acidification</text>
<text x="469.50" y="484.00" font-size="10" font-weight="bold" text-anchor="start" transform="rotate(30 469.50 484.00)" fill="#111">Interaction</text>
<line x1="529.40" y1="387.10" x2="529.40" y2="483.70" stroke="#666" stroke-width="1.0"/>
<line x1="527.60" y1="483.70" x2="529.40" y2="483.70" stroke="#666" stroke-width="1.0"/>
<text x="526.00" y="486.70" font-size="8.4" font-weight="bold" text-anchor="end" fill="#111">–1.5</text>
<line x1="527.60" y1="467.60" x2="529.40" y2="467.60" stroke="#666" stroke-width="1.0"/>
<text x="526.00" y="470.60" font-size="8.4" font-weight="bold" text-anchor="end" fill="#111">–1.0</text>
<line x1="527.60" y1="451.50" x2="529.40" y2="451.50" stroke="#666" stroke-width="1.0"/>
<text x="526.00" y="454.50" font-size="8.4" font-weight="bold" text-anchor="end" fill="#111">–0.5</text>
<line x1="527.60" y1="435.40" x2="529.40" y2="435.40" stroke="#666" stroke-width="1.0"/>
<text x="526.00" y="438.40" font-size="8.4" font-weight="bold" text-anchor="end" fill="#111">0.0</text>
<line x1="527.60" y1="419.30" x2="529.40" y2="419.30" stroke="#666" stroke-width="1.0"/>
<text x="526.00" y="422.30" font-size="8.4" font-weight="bold" text-anchor="end" fill="#111">0.5</text>
<line x1="527.60" y1="403.20" x2="529.40" y2="403.20" stroke="#666" stroke-width="1.0"/>
<text x="526.00" y="406.20" font-size="8.4" font-weight="bold" text-anchor="end" fill="#111">1.0</text>
<line x1="527.60" y1="387.10" x2="529.40" y2="387.10" stroke="#666" stroke-width="1.0"/>
<text x="526.00" y="390.10" font-size="8.4" font-weight="bold" text-anchor="end" fill="#111">1.5</text>
<line x1="529.40" y1="435.40" x2="662.60" y2="435.40" stroke="#666" stroke-width="1.0"/>
<text x="532.60" y="399.60" font-size="9.5" font-weight="bold" font-style="italic" text-anchor="start" fill="#111">cphy</text>
<line x1="551.50" y1="435.40" x2="551.50" y2="437.40" stroke="#666" stroke-width="1.0"/>
<line x1="551.50" y1="423.60" x2="551.50" y2="443.30" stroke="#2a2a2a" stroke-width="0.9"/>
<line x1="549.00" y1="423.50" x2="554.00" y2="423.50" stroke="#2a2a2a" stroke-width="1.1"/>
<line x1="549.00" y1="443.50" x2="554.00" y2="443.50" stroke="#2a2a2a" stroke-width="1.1"/>
<circle cx="551.80" cy="433.30" r="5.10" fill="#fff" stroke="#2a2a2a" stroke-width="1.0"/>
<line x1="596.50" y1="435.40" x2="596.50" y2="437.40" stroke="#666" stroke-width="1.0"/>
<line x1="596.50" y1="440.20" x2="596.50" y2="460.40" stroke="#2a2a2a" stroke-width="0.9"/>
<line x1="594.00" y1="440.50" x2="599.00" y2="440.50" stroke="#2a2a2a" stroke-width="1.1"/>
<line x1="594.00" y1="460.50" x2="599.00" y2="460.50" stroke="#2a2a2a" stroke-width="1.1"/>
<circle cx="596.20" cy="450.40" r="5.10" fill="#fff" stroke="#2a2a2a" stroke-width="1.0"/>
<line x1="640.50" y1="435.40" x2="640.50" y2="437.40" stroke="#666" stroke-width="1.0"/>
<line x1="640.50" y1="416.50" x2="640.50" y2="436.70" stroke="#2a2a2a" stroke-width="0.9"/>
<line x1="638.00" y1="416.50" x2="643.00" y2="416.50" stroke="#2a2a2a" stroke-width="1.1"/>
<line x1="638.00" y1="436.50" x2="643.00" y2="436.50" stroke="#2a2a2a" stroke-width="1.1"/>
<circle cx="640.30" cy="426.80" r="5.10" fill="#c8c8c8" stroke="#2a2a2a" stroke-width="1.0"/>
<text x="544.40" y="485.20" font-size="10" font-weight="bold" text-anchor="start" transform="rotate(30 544.40 485.20)" fill="#111">Drought</text>
<text x="589.60" y="485.20" font-size="10" font-weight="bold" text-anchor="start" transform="rotate(30 589.60 485.20)" fill="#111">Acidification</text>
<text x="632.90" y="485.20" font-size="10" font-weight="bold" text-anchor="start" transform="rotate(30 632.90 485.20)" fill="#111">Interaction</text>
<line x1="40.50" y1="503.60" x2="40.50" y2="599.00" stroke="#666" stroke-width="1.0"/>
<line x1="38.70" y1="599.00" x2="40.50" y2="599.00" stroke="#666" stroke-width="1.0"/>
<text x="37.10" y="602.00" font-size="8.4" font-weight="bold" text-anchor="end" fill="#111">–1.5</text>
<line x1="38.70" y1="583.10" x2="40.50" y2="583.10" stroke="#666" stroke-width="1.0"/>
<text x="37.10" y="586.10" font-size="8.4" font-weight="bold" text-anchor="end" fill="#111">–1.0</text>
<line x1="38.70" y1="567.20" x2="40.50" y2="567.20" stroke="#666" stroke-width="1.0"/>
<text x="37.10" y="570.20" font-size="8.4" font-weight="bold" text-anchor="end" fill="#111">–0.5</text>
<line x1="38.70" y1="551.30" x2="40.50" y2="551.30" stroke="#666" stroke-width="1.0"/>
<text x="37.10" y="554.30" font-size="8.4" font-weight="bold" text-anchor="end" fill="#111">0.0</text>
<line x1="38.70" y1="535.40" x2="40.50" y2="535.40" stroke="#666" stroke-width="1.0"/>
<text x="37.10" y="538.40" font-size="8.4" font-weight="bold" text-anchor="end" fill="#111">0.5</text>
<line x1="38.70" y1="519.50" x2="40.50" y2="519.50" stroke="#666" stroke-width="1.0"/>
<text x="37.10" y="522.50" font-size="8.4" font-weight="bold" text-anchor="end" fill="#111">1.0</text>
<line x1="38.70" y1="503.60" x2="40.50" y2="503.60" stroke="#666" stroke-width="1.0"/>
<text x="37.10" y="506.60" font-size="8.4" font-weight="bold" text-anchor="end" fill="#111">1.5</text>
<line x1="40.50" y1="551.30" x2="174.20" y2="551.30" stroke="#666" stroke-width="1.0"/>
<text x="43.70" y="514.90" font-size="9.5" font-weight="bold" font-style="italic" text-anchor="start" fill="#111">gcd</text>
<line x1="63.50" y1="551.30" x2="63.50" y2="553.30" stroke="#666" stroke-width="1.0"/>
<line x1="63.50" y1="535.50" x2="63.50" y2="555.10" stroke="#2a2a2a" stroke-width="0.9"/>
<line x1="61.00" y1="535.50" x2="66.00" y2="535.50" stroke="#2a2a2a" stroke-width="1.1"/>
<line x1="61.00" y1="555.50" x2="66.00" y2="555.50" stroke="#2a2a2a" stroke-width="1.1"/>
<circle cx="63.20" cy="545.40" r="5.10" fill="#fff" stroke="#2a2a2a" stroke-width="1.0"/>
<line x1="107.50" y1="551.30" x2="107.50" y2="553.30" stroke="#666" stroke-width="1.0"/>
<line x1="107.50" y1="561.50" x2="107.50" y2="582.00" stroke="#2a2a2a" stroke-width="0.9"/>
<line x1="105.00" y1="561.50" x2="110.00" y2="561.50" stroke="#2a2a2a" stroke-width="1.1"/>
<line x1="105.00" y1="582.50" x2="110.00" y2="582.50" stroke="#2a2a2a" stroke-width="1.1"/>
<circle cx="107.20" cy="572.00" r="5.10" fill="#fff" stroke="#2a2a2a" stroke-width="1.0"/>
<line x1="151.50" y1="551.30" x2="151.50" y2="553.30" stroke="#666" stroke-width="1.0"/>
<line x1="151.50" y1="523.40" x2="151.50" y2="543.30" stroke="#2a2a2a" stroke-width="0.9"/>
<line x1="149.00" y1="523.50" x2="154.00" y2="523.50" stroke="#2a2a2a" stroke-width="1.1"/>
<line x1="149.00" y1="543.50" x2="154.00" y2="543.50" stroke="#2a2a2a" stroke-width="1.1"/>
<circle cx="151.90" cy="533.40" r="5.10" fill="#64c8b4" stroke="#2a2a2a" stroke-width="1.0"/>
<text x="14.00" y="542.70" font-size="10" font-weight="bold" text-anchor="middle" transform="rotate(-90 14.00 542.70)" fill="#111">Hedge’s d</text>
<text x="55.80" y="602.60" font-size="10" font-weight="bold" text-anchor="start" transform="rotate(30 55.80 602.60)" fill="#111">Drought</text>
<text x="100.60" y="602.60" font-size="10" font-weight="bold" text-anchor="start" transform="rotate(30 100.60 602.60)" fill="#111">Acidification</text>
<text x="144.50" y="602.60" font-size="10" font-weight="bold" text-anchor="start" transform="rotate(30 144.50 602.60)" fill="#111">Interaction</text>
<line x1="201.50" y1="504.60" x2="201.50" y2="600.00" stroke="#666" stroke-width="1.0"/>
<line x1="199.70" y1="600.00" x2="201.50" y2="600.00" stroke="#666" stroke-width="1.0"/>
<text x="198.10" y="603.00" font-size="8.4" font-weight="bold" text-anchor="end" fill="#111">–1.5</text>
<line x1="199.70" y1="584.10" x2="201.50" y2="584.10" stroke="#666" stroke-width="1.0"/>
<text x="198.10" y="587.10" font-size="8.4" font-weight="bold" text-anchor="end" fill="#111">–1.0</text>
<line x1="199.70" y1="568.20" x2="201.50" y2="568.20" stroke="#666" stroke-width="1.0"/>
<text x="198.10" y="571.20" font-size="8.4" font-weight="bold" text-anchor="end" fill="#111">–0.5</text>
<line x1="199.70" y1="552.30" x2="201.50" y2="552.30" stroke="#666" stroke-width="1.0"/>
<text x="198.10" y="555.30" font-size="8.4" font-weight="bold" text-anchor="end" fill="#111">0.0</text>
<line x1="199.70" y1="536.40" x2="201.50" y2="536.40" stroke="#666" stroke-width="1.0"/>
<text x="198.10" y="539.40" font-size="8.4" font-weight="bold" text-anchor="end" fill="#111">0.5</text>
<line x1="199.70" y1="520.50" x2="201.50" y2="520.50" stroke="#666" stroke-width="1.0"/>
<text x="198.10" y="523.50" font-size="8.4" font-weight="bold" text-anchor="end" fill="#111">1.0</text>
<line x1="199.70" y1="504.60" x2="201.50" y2="504.60" stroke="#666" stroke-width="1.0"/>
<text x="198.10" y="507.60" font-size="8.4" font-weight="bold" text-anchor="end" fill="#111">1.5</text>
<line x1="201.50" y1="552.30" x2="336.00" y2="552.30" stroke="#666" stroke-width="1.0"/>
<text x="204.70" y="514.90" font-size="9.5" font-weight="bold" font-style="italic" text-anchor="start" fill="#111">pqqC</text>
<line x1="224.50" y1="552.30" x2="224.50" y2="554.30" stroke="#666" stroke-width="1.0"/>
<line x1="224.50" y1="529.40" x2="224.50" y2="549.60" stroke="#2a2a2a" stroke-width="0.9"/>
<line x1="222.00" y1="529.50" x2="227.00" y2="529.50" stroke="#2a2a2a" stroke-width="1.1"/>
<line x1="222.00" y1="549.50" x2="227.00" y2="549.50" stroke="#2a2a2a" stroke-width="1.1"/>
<circle cx="224.70" cy="539.40" r="5.10" fill="#fff" stroke="#2a2a2a" stroke-width="1.0"/>
<line x1="269.50" y1="552.30" x2="269.50" y2="554.30" stroke="#666" stroke-width="1.0"/>
<line x1="269.50" y1="547.00" x2="269.50" y2="566.70" stroke="#2a2a2a" stroke-width="0.9"/>
<line x1="267.00" y1="547.50" x2="272.00" y2="547.50" stroke="#2a2a2a" stroke-width="1.1"/>
<line x1="267.00" y1="566.50" x2="272.00" y2="566.50" stroke="#2a2a2a" stroke-width="1.1"/>
<circle cx="269.00" cy="557.00" r="5.10" fill="#fff" stroke="#2a2a2a" stroke-width="1.0"/>
<line x1="313.50" y1="552.30" x2="313.50" y2="554.30" stroke="#666" stroke-width="1.0"/>
<line x1="313.50" y1="527.30" x2="313.50" y2="547.30" stroke="#2a2a2a" stroke-width="0.9"/>
<line x1="311.00" y1="527.50" x2="316.00" y2="527.50" stroke="#2a2a2a" stroke-width="1.1"/>
<line x1="311.00" y1="547.50" x2="316.00" y2="547.50" stroke="#2a2a2a" stroke-width="1.1"/>
<circle cx="313.70" cy="537.30" r="5.10" fill="#f0643f" stroke="#2a2a2a" stroke-width="1.0"/>
<text x="217.30" y="602.10" font-size="10" font-weight="bold" text-anchor="start" transform="rotate(30 217.30 602.10)" fill="#111">Drought</text>
<text x="262.40" y="602.10" font-size="10" font-weight="bold" text-anchor="start" transform="rotate(30 262.40 602.10)" fill="#111">Acidification</text>
<text x="306.30" y="602.10" font-size="10" font-weight="bold" text-anchor="start" transform="rotate(30 306.30 602.10)" fill="#111">Interaction</text>
<circle cx="562.20" cy="538.00" r="6.90" fill="#c8c8c8" stroke="#555" stroke-width="0.9"/>
<text x="576.60" y="542.50" font-size="11.4" font-weight="bold" text-anchor="start" fill="#111">Additive</text>
<circle cx="562.20" cy="557.40" r="6.90" fill="#f0643f" stroke="#555" stroke-width="0.9"/>
<text x="576.60" y="561.90" font-size="11.4" font-weight="bold" text-anchor="start" fill="#111">Synergistic</text>
<circle cx="562.20" cy="576.60" r="6.90" fill="#64c8b4" stroke="#555" stroke-width="0.9"/>
<text x="576.60" y="581.10" font-size="11.4" font-weight="bold" text-anchor="start" fill="#111">Antagonistic</text>
<text x="620.60" y="541.60" font-size="5" font-weight="normal" text-anchor="start" fill="#c4c4c4">r</text>
</svg></body></html>
